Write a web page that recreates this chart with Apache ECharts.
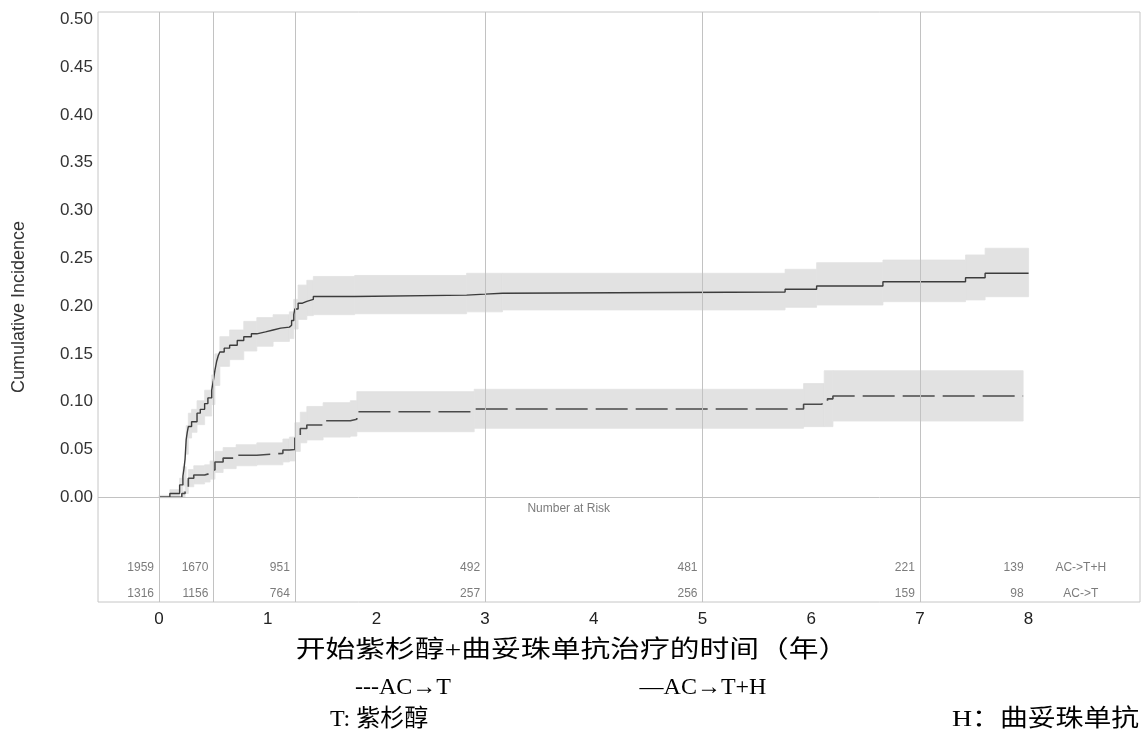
<!DOCTYPE html>
<html>
<head>
<meta charset="utf-8">
<script src="https://cdn.jsdelivr.net/npm/echarts@6/dist/echarts.min.js"></script>
<style>
  html, body { margin: 0; padding: 0; background: #fff; }
  #chart { width: 1142px; height: 736px; }
</style>
</head>
<body>
<div id="chart"></div>
<script>
// AC->T+H 累积发生率 (实线)
var thTimes = [0, 0.10, 0.19, 0.22, 0.23, 0.24, 0.25, 0.26, 0.27, 0.30, 0.35, 0.38, 0.42, 0.45, 0.485, 0.50, 0.515, 0.53, 0.545, 0.56, 0.60, 0.65, 0.72, 0.78, 0.85, 0.90, 0.98, 1.05, 1.12, 1.20, 1.22, 1.24, 1.25, 1.28, 1.32, 1.36, 1.42, 1.80, 2.83, 3.00, 3.16, 5.76, 6.05, 6.66, 7.42, 7.60, 8.00];
var thValues = [0, 0.004, 0.013, 0.022, 0.030, 0.040, 0.060, 0.068, 0.074, 0.079, 0.088, 0.092, 0.098, 0.104, 0.112, 0.122, 0.133, 0.142, 0.148, 0.152, 0.156, 0.159, 0.164, 0.168, 0.171, 0.173, 0.175, 0.177, 0.178, 0.180, 0.185, 0.191, 0.197, 0.203, 0.205, 0.207, 0.210, 0.2115, 0.2125, 0.2135, 0.2147, 0.2176, 0.221, 0.2255, 0.2297, 0.2343, 0.2343];
// AC->T+H 置信区间
var thBandTimes = [0, 0.10, 0.19, 0.22, 0.25, 0.27, 0.30, 0.35, 0.42, 0.485, 0.515, 0.56, 0.65, 0.78, 0.90, 1.05, 1.20, 1.24, 1.28, 1.36, 1.42, 1.80, 2.83, 3.16, 5.76, 6.05, 6.66, 7.42, 7.60];
var thLower = [0, 0, 0.006, 0.012, 0.045, 0.062, 0.068, 0.076, 0.085, 0.097, 0.117, 0.137, 0.144, 0.153, 0.158, 0.163, 0.166, 0.176, 0.186, 0.190, 0.191, 0.192, 0.194, 0.196, 0.1987, 0.2011, 0.2046, 0.2064, 0.2098];
var thUpper = [0.002, 0.008, 0.020, 0.032, 0.075, 0.088, 0.092, 0.101, 0.112, 0.128, 0.150, 0.168, 0.175, 0.184, 0.188, 0.191, 0.194, 0.207, 0.222, 0.227, 0.231, 0.232, 0.2343, 0.2343, 0.2385, 0.2454, 0.2482, 0.2535, 0.2605];
var thBandEnd = 8.0;

// AC->T 累积发生率 (虚线)
var tTimes = [0, 0.21, 0.24, 0.27, 0.32, 0.42, 0.47, 0.515, 0.59, 0.71, 0.90, 1.14, 1.20, 1.25, 1.30, 1.36, 1.51, 1.76, 1.82, 2.90, 5.93, 6.10, 6.15, 6.20, 7.95];
var tValues = [0, 0.004, 0.011, 0.020, 0.0233, 0.025, 0.0286, 0.037, 0.041, 0.044, 0.046, 0.0495, 0.050, 0.062, 0.072, 0.0756, 0.080, 0.0816, 0.0895, 0.0924, 0.0973, 0.100, 0.103, 0.106, 0.106];
var tBandTimes = [0, 0.21, 0.24, 0.27, 0.32, 0.42, 0.47, 0.515, 0.59, 0.71, 0.90, 1.14, 1.20, 1.25, 1.30, 1.36, 1.51, 1.76, 1.82, 2.90, 5.93, 6.12, 6.20];
var tLower = [0, 0, 0.004, 0.011, 0.014, 0.016, 0.019, 0.026, 0.030, 0.033, 0.034, 0.037, 0.038, 0.048, 0.057, 0.060, 0.063, 0.064, 0.0686, 0.0722, 0.0739, 0.0739, 0.0798];
var tUpper = [0, 0.006, 0.018, 0.029, 0.033, 0.034, 0.038, 0.048, 0.052, 0.055, 0.057, 0.061, 0.063, 0.078, 0.089, 0.095, 0.099, 0.101, 0.1105, 0.113, 0.119, 0.1324, 0.1324];
var tBandEnd = 7.95;

// Number at Risk
var riskTimes = [0, 0.5, 1.25, 3, 5, 7, 8];
var riskTH = [1959, 1670, 951, 492, 481, 221, 139];
var riskT = [1316, 1156, 764, 257, 256, 159, 98];
var riskGroups = ['AC->T+H', 'AC->T'];

// 轴刻度
var xTicks = [0, 1, 2, 3, 4, 5, 6, 7, 8];
var yTicks = [0, 0.05, 0.10, 0.15, 0.20, 0.25, 0.30, 0.35, 0.40, 0.45, 0.50];
var tableLines = [0, 0.5, 1.25, 3, 5, 7];

var chart = echarts.init(document.getElementById('chart'), null, {renderer: 'canvas'});

function pairs(xs, ys) {
    return xs.map(function (x, i) { return [x, ys[i]]; });
}

// 置信带: 每段一个矩形
function bandData(ts, lo, hi, end) {
    return ts.map(function (t, i) {
        var t1 = i < ts.length - 1 ? ts[i + 1] : end;
        return [t, t1, lo[i], hi[i]];
    });
}

function renderBand(params, api) {
    var p0 = api.coord([api.value(0), api.value(3)]);
    var p1 = api.coord([api.value(1), api.value(2)]);
    return {
        type: 'rect',
        shape: {x: p0[0], y: p0[1], width: p1[0] - p0[0], height: Math.max(p1[1] - p0[1], 0.5)},
        style: {fill: '#e2e2e2', stroke: '#e2e2e2', lineWidth: 0.8}
    };
}

var ROW_TH = -0.0732, ROW_T = -0.1004, TITLE_Y = -0.0115, GROUP_X = 8.48;
var sansFont = 'Liberation Sans, Arial, sans-serif';
var serifFont = 'Liberation Serif, Times New Roman, Noto Sans CJK SC, serif';

var tableLabel = {
    show: true, position: 'left', distance: 5,
    fontFamily: sansFont, fontSize: 12, color: '#5a5a5a',
    formatter: function (p) { return p.data[2]; }
};

// 底部说明文字
function caption(text, x, y, align, sx) {
    return {
        type: 'text', x: x, y: y, scaleX: sx || 1,
        style: {text: text, x: 0, y: 0, align: align, verticalAlign: 'middle', font: '24px ' + serifFont, fill: '#000'}
    };
}

var option = {
    animation: false,
    grid: {left: 98, top: 12, width: 1042, height: 590, show: true, borderColor: '#c6c6c6', borderWidth: 1},
    xAxis: {
        type: 'value', min: -0.561, max: 9.025,
        axisLine: {show: false}, axisTick: {show: false}, splitLine: {show: false},
        axisLabel: {customValues: xTicks, fontFamily: sansFont, fontSize: 17, color: '#222', margin: 9}
    },
    yAxis: {
        type: 'value', min: -0.1095, max: 0.5076,
        name: 'Cumulative Incidence', nameLocation: 'middle', nameGap: 70,
        nameTextStyle: {fontFamily: sansFont, fontSize: 18, color: '#333'},
        axisLine: {show: false}, axisTick: {show: false}, splitLine: {show: false},
        axisLabel: {
            customValues: yTicks, fontFamily: sansFont, fontSize: 17, color: '#333', margin: 5,
            formatter: function (v) { return v.toFixed(2); }
        }
    },
    graphic: [
        caption('开始紫杉醇+曲妥珠单抗治疗的时间（年）', 572, 651, 'center', 1.24),
        caption('---AC→T', 403, 688, 'center'),
        caption('—AC→T+H', 703, 688, 'center'),
        caption('T: 紫杉醇', 330, 720, 'left'),
        caption('H：曲妥珠单抗', 952, 720, 'left', 1.16)
    ],
    series: [
        {type: 'custom', renderItem: renderBand, data: bandData(thBandTimes, thLower, thUpper, thBandEnd), encode: {x: [0, 1], y: [2, 3]}, z: 1, silent: true},
        {type: 'custom', renderItem: renderBand, data: bandData(tBandTimes, tLower, tUpper, tBandEnd), encode: {x: [0, 1], y: [2, 3]}, z: 1, silent: true},
        {
            type: 'line', data: [], z: 2, silent: true,
            markLine: {
                silent: true, symbol: 'none', label: {show: false},
                lineStyle: {color: '#c2c2c2', width: 1, type: 'solid'},
                data: tableLines.map(function (v) { return {xAxis: v}; }).concat([{yAxis: 0}])
            }
        },
        {type: 'line', name: 'AC->T+H', step: 'end', showSymbol: false, z: 3, data: pairs(thTimes, thValues), lineStyle: {color: '#3c3c3c', width: 1.4}},
        {type: 'line', name: 'AC->T', step: 'end', showSymbol: false, z: 3, data: pairs(tTimes, tValues), lineStyle: {color: '#4a4a4a', width: 1.6, type: [32, 8]}},
        {type: 'scatter', symbolSize: 0, silent: true, label: tableLabel, data: riskTimes.map(function (t, i) { return [t, ROW_TH, riskTH[i]]; })},
        {type: 'scatter', symbolSize: 0, silent: true, label: tableLabel, data: riskTimes.map(function (t, i) { return [t, ROW_T, riskT[i]]; })},
        {
            type: 'scatter', symbolSize: 0, silent: true,
            label: {show: true, position: 'inside', fontFamily: sansFont, fontSize: 12, color: '#5a5a5a', formatter: function (p) { return p.data[2]; }},
            data: [[GROUP_X, ROW_TH, riskGroups[0]], [GROUP_X, ROW_T, riskGroups[1]], [3.77, TITLE_Y, 'Number at Risk']]
        }
    ]
};

chart.setOption(option);
</script>
</body>
</html>
